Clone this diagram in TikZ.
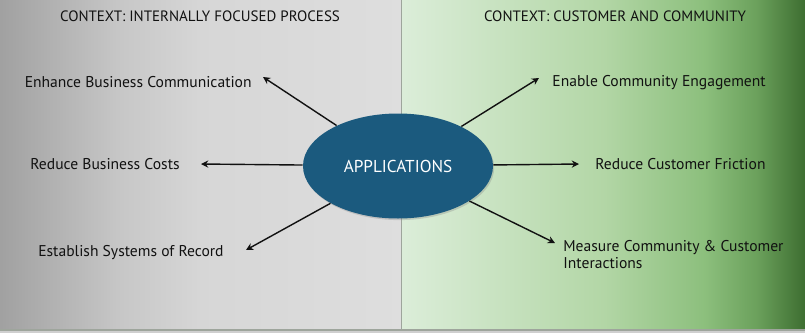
\documentclass[tikz,border=0pt]{standalone}
\usepackage{fontspec}
\setmainfont{PT Sans}
\usetikzlibrary{arrows.meta,shapes.geometric,shadows}
\definecolor{ink}{HTML}{111111}
\definecolor{hubblue}{HTML}{1B5A7E}
\definecolor{rule}{HTML}{9EA59C}
\definecolor{floor}{HTML}{CFCFCF}
\pgfdeclarehorizontalshading{greyside}{100bp}{%
  rgb(0bp)=(0.63,0.63,0.63); rgb(25bp)=(0.63,0.63,0.63);
  rgb(40bp)=(0.78,0.78,0.78); rgb(50bp)=(0.84,0.84,0.84);
  rgb(75bp)=(0.87,0.87,0.87); rgb(100bp)=(0.87,0.87,0.87)}
\pgfdeclarehorizontalshading{greenside}{100bp}{%
  rgb(0bp)=(0.86,0.93,0.85); rgb(25bp)=(0.86,0.93,0.85);
  rgb(50bp)=(0.70,0.84,0.65); rgb(62.5bp)=(0.55,0.75,0.49);
  rgb(69bp)=(0.42,0.63,0.36); rgb(75bp)=(0.24,0.43,0.19);
  rgb(100bp)=(0.24,0.43,0.19)}

\begin{document}
\begin{tikzpicture}[
  x=0.5pt,
  y=-0.5pt,
  hub/.style={
    ellipse,minimum width=95pt,minimum height=52.5pt,inner sep=0pt,
    fill=hubblue,text=white,font=\fontsize{8.6}{10}\selectfont,
    drop shadow={opacity=0.3,shadow xshift=0.6pt,shadow yshift=-0.8pt}
  },
  goal/.style={
    inner sep=0pt,text=ink,font=\fontsize{7.8}{8.5}\selectfont
  },
  link/.style={
    -{Stealth[length=3.6pt,width=3.6pt]},line width=0.7pt,draw=ink
  },
  paneltitle/.style={goal,anchor=base,font=\fontsize{7.5}{9}\selectfont}
]
  \useasboundingbox (0,0) rectangle (805,333);
  \path[shading=greyside] (0,0) rectangle (401,330);
  \path[shading=greenside] (402,0) rectangle (805,330);
  \fill[floor] (0,330) rectangle (805,333);
  \draw[rule,line width=0.5pt] (401.5,0) -- (401.5,330);
  \draw[rule,line width=0.6pt] (0,330) -- (805,330);

  \node[paneltitle] (internal) at (200,21.5) {CONTEXT: INTERNALLY FOCUSED PROCESS};
  \node[paneltitle] (customer) at (615,21.5) {CONTEXT: CUSTOMER AND COMMUNITY};

  \node[hub] (apps) at (398,166) {APPLICATIONS};

  \node[goal,anchor=base east] (enhance) at (252,87) {Enhance Business Communication};
  \node[goal,anchor=base east] (costs) at (180,169.5) {Reduce Business Costs};
  \node[goal,anchor=base east] (record) at (224,256) {Establish Systems of Record};
  \node[goal,anchor=base west] (engage) at (552,86.5) {Enable Community Engagement};
  \node[goal,anchor=base west] (friction) at (595,169.5) {Reduce Customer Friction};
  \node[goal,anchor=base west,align=left] (measure) at (563,268)
    {Measure Community \& Customer\\Interactions};

  \coordinate (enhance-tip) at (263,77);
  \coordinate (costs-tip) at (201,164);
  \coordinate (record-tip) at (246,250);
  \coordinate (engage-tip) at (539,78);
  \coordinate (friction-tip) at (579,164);
  \coordinate (measure-tip) at (555,243);

  \draw[link] (apps) -- (enhance-tip);
  \draw[link] (apps) -- (costs-tip);
  \draw[link] (apps) -- (record-tip);
  \draw[link] (apps) -- (engage-tip);
  \draw[link] (apps) -- (friction-tip);
  \draw[link] (apps) -- (measure-tip);
\end{tikzpicture}
\end{document}
